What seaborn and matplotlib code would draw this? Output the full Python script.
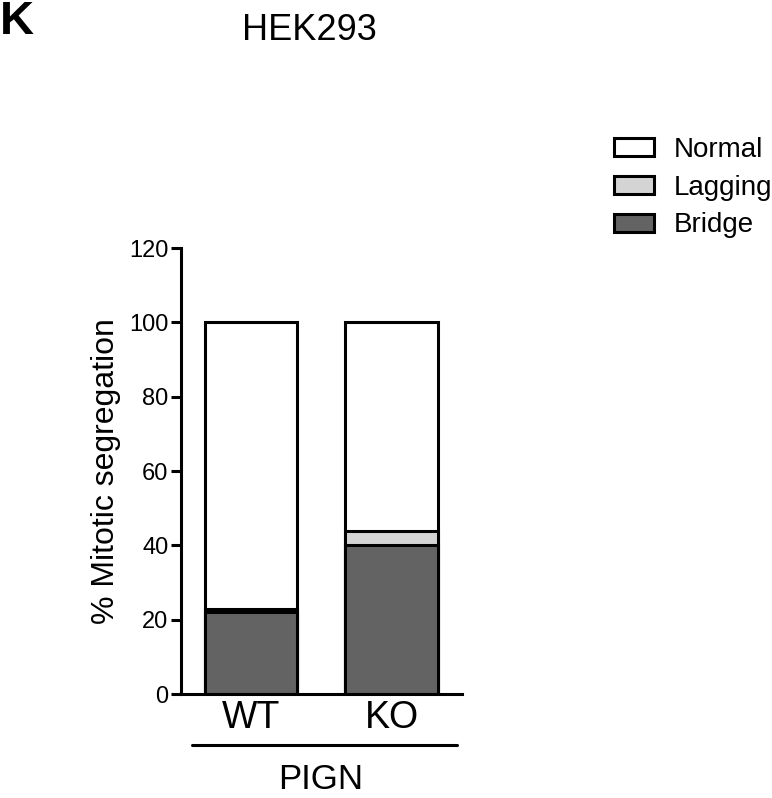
import pandas as pd
import matplotlib.pyplot as plt
import matplotlib.patches as mpatches
import seaborn as sns

# --- data ---
groups = ['WT', 'KO']
bridge = [22, 40]
lagging = [1, 4]
normal = [77, 56]
categories = ['Normal', 'Lagging', 'Bridge']
colors = {'Normal': '#ffffff', 'Lagging': '#d4d4d4', 'Bridge': '#636363'}

sns.set_style('ticks')
plt.rcParams['font.family'] = ['Liberation Sans', 'DejaVu Sans']
plt.rcParams['text.color'] = 'black'
plt.rcParams['axes.labelcolor'] = 'black'
plt.rcParams['xtick.color'] = 'black'
plt.rcParams['ytick.color'] = 'black'
plt.rcParams['axes.edgecolor'] = 'black'

df = pd.DataFrame({'group': groups, 'Bridge': bridge, 'Lagging': lagging, 'Normal': normal})
df['lag_top'] = df['Bridge'] + df['Lagging']
df['total'] = df['lag_top'] + df['Normal']

fig = plt.figure(figsize=(7.72, 7.98), dpi=100)
ax = fig.add_axes([0.2345, 0.1303, 0.3635, 0.5587])

lw = 2.2
# stacked bars drawn from the top layer down
for col, cat in [('total', 'Normal'), ('lag_top', 'Lagging'), ('Bridge', 'Bridge')]:
    sns.barplot(data=df, x='group', y=col, color=colors[cat], saturation=1,
                width=0.66, edgecolor='black', linewidth=lw, ax=ax)

ax.set_xlim(-0.5, 1.5)
ax.set_ylim(0, 120)
ax.set_yticks(range(0, 121, 20))
ax.set_xlabel('')
ax.set_ylabel('% Mitotic segregation', fontsize=23, labelpad=6)
ax.tick_params(axis='y', labelsize=17, width=lw, length=7, pad=2)
ax.tick_params(axis='x', labelsize=27, length=0, pad=4)
for s in ['left', 'bottom']:
    ax.spines[s].set_linewidth(lw)
sns.despine(ax=ax)

# group bracket
fig.add_artist(plt.Line2D([192 / 772, 457 / 772], [1 - 745 / 798] * 2,
                          color='black', linewidth=lw))
fig.text(321 / 772, 1 - 796 / 798, 'PIGN', fontsize=25, ha='center', va='bottom')

fig.text(309 / 772, 1 - 30 / 798, 'HEK293', fontsize=26, ha='center', va='center')
fig.text(0.0, 1 - 22 / 798, 'K', fontsize=34, fontweight='bold', ha='left', va='center')

handles = [mpatches.Patch(facecolor=colors[c], edgecolor='black', linewidth=lw, label=c)
           for c in categories]
fig.legend(handles=handles, loc='upper left', bbox_to_anchor=(614 / 772, 1 - 137 / 798),
           frameon=False, fontsize=20, handlelength=1.45, handleheight=0.62,
           labelspacing=0.42, handletextpad=0.7, borderpad=0, borderaxespad=0)

fig.savefig('out.png', dpi=100)
